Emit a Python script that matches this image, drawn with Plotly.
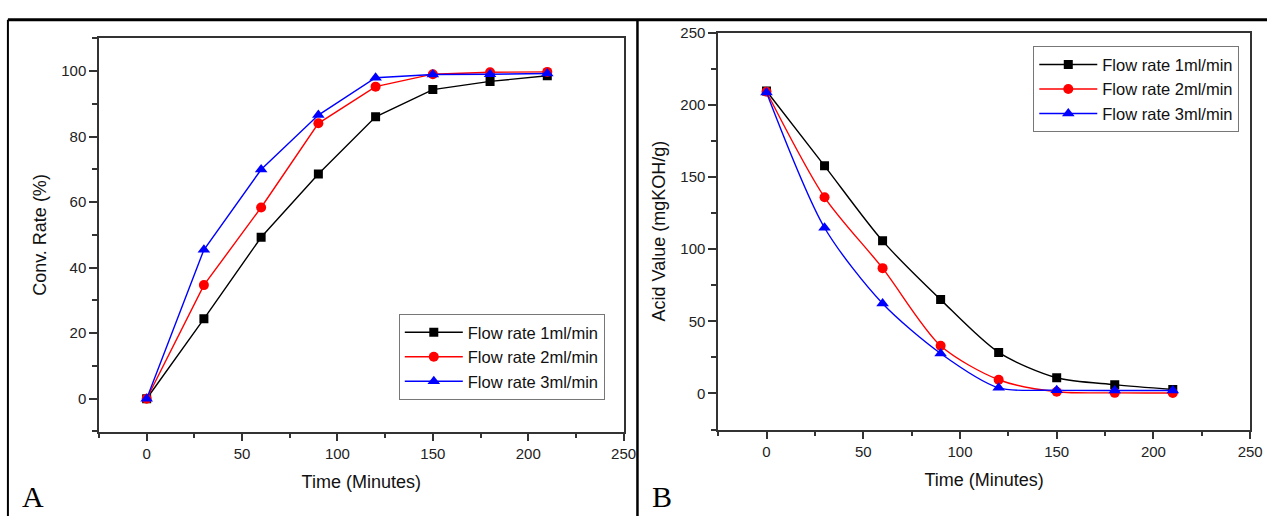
import plotly.graph_objects as go

time_min = [0, 30, 60, 90, 120, 150, 180, 210]

# Panel A: conversion rate (%)
conv_1ml = [0, 24.4, 49.3, 68.6, 86.1, 94.4, 96.9, 98.6]
conv_2ml = [0, 34.7, 58.4, 84.1, 95.3, 99.1, 99.7, 99.8]
conv_3ml = [0, 45.5, 70.0, 86.6, 98.0, 99.0, 99.1, 99.3]

# Panel B: acid value (mgKOH/g)
acid_1ml = [209.5, 157.7, 105.7, 65.0, 28.4, 10.9, 6.1, 2.7]
acid_2ml = [209.0, 135.9, 86.8, 33.0, 9.5, 1.2, 0.4, 0.3]
acid_3ml = [208.5, 114.8, 62.3, 27.7, 3.9, 2.3, 2.0, 2.0]

series_names = ["Flow rate 1ml/min", "Flow rate 2ml/min", "Flow rate 3ml/min"]
colors = ["#000000", "#ff0000", "#0000ff"]
symbols = ["square", "circle", "triangle-up"]
msizes = [9, 10, 11]

x_title = "Time (Minutes)"
yA_title = "Conv. Rate (%)"
yB_title = "Acid Value (mgKOH/g)"
panel_labels = ["A", "B"]

W, H = 1280, 516
FONT = "Arial, Liberation Sans, sans-serif"

fig = go.Figure()

for name, ys, c, s, ms in zip(series_names, [conv_1ml, conv_2ml, conv_3ml], colors, symbols, msizes):
    fig.add_trace(go.Scatter(
        x=time_min, y=ys, name=name, mode="lines+markers",
        line=dict(color=c, width=1.4),
        marker=dict(symbol=s, size=ms, color=c),
        xaxis="x", yaxis="y", legend="legend",
    ))

for name, ys, c, s, ms in zip(series_names, [acid_1ml, acid_2ml, acid_3ml], colors, symbols, msizes):
    fig.add_trace(go.Scatter(
        x=time_min, y=ys, name=name, mode="lines+markers",
        line=dict(color=c, width=1.4, shape="spline", smoothing=0.8),
        marker=dict(symbol=s, size=ms, color=c),
        xaxis="x2", yaxis="y2", legend="legend2",
    ))

axis_common = dict(
    showline=True, linecolor="#333333", linewidth=1.5, mirror=True,
    ticks="outside", ticklen=8, tickwidth=1.5, tickcolor="#333333",
    showgrid=False, zeroline=False,
    tickfont=dict(family=FONT, size=15, color="#222222"),
    title_font=dict(family=FONT, size=18, color="#111111"),
)
minor_common = dict(ticklen=5, tickwidth=1.5, tickcolor="#333333", ticks="outside", showgrid=False)

def px_x(v):
    return v / W

def px_y(v):
    return 1 - v / H

legend_common = dict(
    bgcolor="white", bordercolor="#777777", borderwidth=1, itemwidth=58,
    font=dict(family=FONT, size=16.5, color="#111111"), tracegroupgap=0,
)

fig.update_layout(
    width=W, height=H, autosize=False,
    margin=dict(l=0, r=0, t=0, b=0),
    paper_bgcolor="white", plot_bgcolor="white",
    font=dict(family=FONT, color="#111111"),
    xaxis=dict(domain=[px_x(100), px_x(630)], range=[-25, 250], dtick=50, tick0=0,
               minor=dict(dtick=25, tick0=0, **minor_common),
               title=dict(text=x_title, standoff=14), anchor="y", **axis_common),
    yaxis=dict(domain=[px_y(430), px_y(30)], range=[-10, 110], dtick=20, tick0=0,
               minor=dict(dtick=10, tick0=0, **minor_common),
               title=dict(text=yA_title, standoff=10), anchor="x", **axis_common),
    xaxis2=dict(domain=[px_x(725.5), px_x(1263)], range=[-25, 250], dtick=50, tick0=0,
                minor=dict(dtick=25, tick0=0, **minor_common),
                title=dict(text=x_title, standoff=14), anchor="y2", **axis_common),
    yaxis2=dict(domain=[px_y(428), px_y(24)], range=[-25, 250], dtick=50, tick0=0,
                minor=dict(dtick=25, tick0=0, **minor_common),
                title=dict(text=yB_title, standoff=10), anchor="x2", **axis_common),
    legend=dict(x=px_x(611), y=px_y(398), xanchor="right", yanchor="bottom", **legend_common),
    legend2=dict(x=px_x(1252), y=px_y(38), xanchor="right", yanchor="top", **legend_common),
    showlegend=True,
)

# outer frame lines of the composite figure
fig.add_shape(type="line", xref="paper", yref="paper", x0=px_x(8), x1=1, y0=px_y(11), y1=px_y(11),
              line=dict(color="black", width=3))
fig.add_shape(type="line", xref="paper", yref="paper", x0=px_x(8), x1=px_x(8), y0=0, y1=px_y(11),
              line=dict(color="black", width=2))
fig.add_shape(type="line", xref="paper", yref="paper", x0=px_x(644), x1=px_x(644), y0=0, y1=px_y(11),
              line=dict(color="black", width=2.5))

for lbl, xp in zip(panel_labels, [33, 669]):
    fig.add_annotation(text=lbl, xref="paper", yref="paper", x=px_x(xp), y=px_y(496),
                       xanchor="center", yanchor="middle", showarrow=False,
                       font=dict(family="Liberation Serif, Times New Roman, serif", size=30, color="black"))

fig.write_html(
    "out.html",
    config={"displayModeBar": False},
    post_script=(
        "document.documentElement.style.margin='0';"
        "document.documentElement.style.overflow='hidden';"
        "document.body.style.margin='0';"
        "document.body.style.overflow='hidden';"
    ),
)
